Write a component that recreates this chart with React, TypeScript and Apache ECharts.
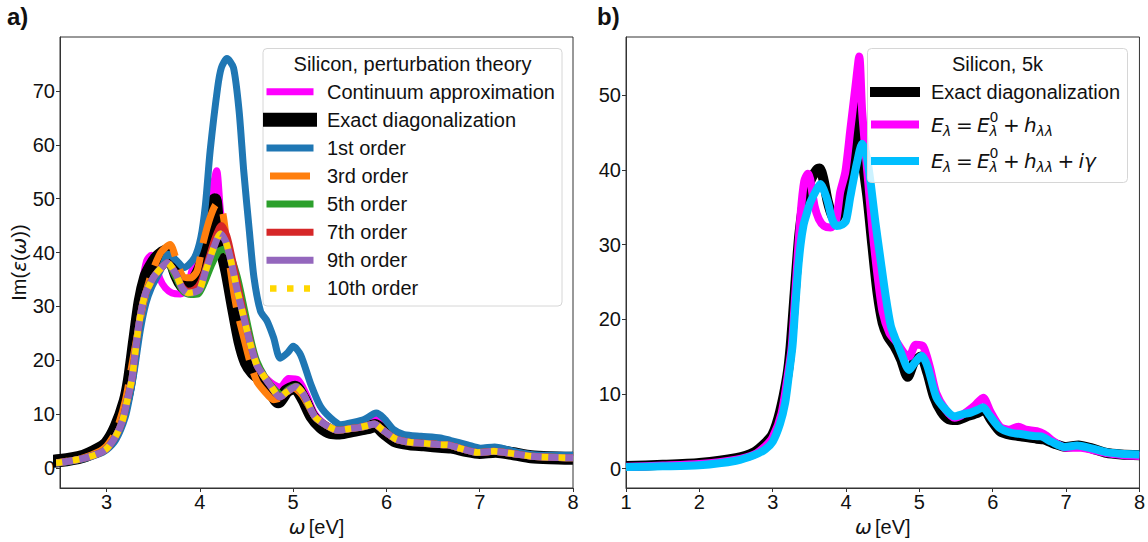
import React, { useEffect, useRef } from "react";
import * as echarts from "echarts";

// ---------- data (omega in eV, Im(eps)) ----------
const exactX = [1.0, 1.5, 2.0, 2.5, 2.75, 2.9, 3.0, 3.1, 3.2, 3.245, 3.3, 3.36, 3.42, 3.47, 3.53, 3.6, 3.64, 3.69, 3.75, 3.81, 3.86, 3.95, 4.04, 4.11, 4.16, 4.2, 4.29, 4.36, 4.43, 4.5, 4.57, 4.66, 4.75, 4.84, 4.93, 5.02, 5.11, 5.2, 5.3, 5.4, 5.5, 5.65, 5.8, 5.88, 5.98, 6.1, 6.25, 6.4, 6.6, 6.7, 6.85, 7.0, 7.17, 7.35, 7.55, 7.75, 8.0];
const exactY = [0.35, 0.5, 0.75, 1.4, 2.2, 3.4, 4.6, 7.6, 12.5, 16.4, 23.5, 31, 35.5, 37.3, 38.9, 40, 40.2, 38.8, 35.8, 33.9, 33.4, 35.2, 38.8, 45.5, 49.8, 43.3, 36.5, 29.8, 23.5, 19.5, 17.7, 16.4, 14.6, 12.3, 14.3, 15, 12.8, 9.6, 7.6, 6.6, 6.5, 7.0, 7.5, 7.9, 6.5, 5.0, 4.5, 4.3, 4.0, 3.9, 3.3, 2.9, 3.1, 2.7, 2.1, 1.9, 1.8];

const contX = [1.0, 1.5, 2.0, 2.5, 2.75, 2.9, 3.0, 3.12, 3.21, 3.26, 3.32, 3.38, 3.43, 3.48, 3.51, 3.57, 3.63, 3.7, 3.79, 3.86, 3.92, 3.99, 4.06, 4.13, 4.18, 4.22, 4.29, 4.36, 4.43, 4.5, 4.59, 4.7, 4.79, 4.86, 4.95, 5.05, 5.14, 5.23, 5.35, 5.48, 5.6, 5.75, 5.87, 5.97, 6.1, 6.22, 6.35, 6.45, 6.6, 6.7, 6.85, 7.0, 7.2, 7.4, 7.6, 7.8, 8.0];
const contY = [0.25, 0.4, 0.6, 1.2, 1.9, 3.0, 4.2, 7.4, 12.8, 16.4, 25.3, 34.0, 38.5, 39.5, 38.8, 35.2, 33.4, 32.5, 32.3, 33, 37, 39.7, 45.5, 51.3, 55.2, 47.8, 39.7, 32, 25.8, 20.9, 18.2, 16.8, 15.5, 15, 16.6, 16.4, 13.7, 10.1, 8.0, 6.8, 7.3, 8.4, 9.5, 7.6, 5.6, 5.2, 5.6, 5.2, 5.0, 4.6, 3.5, 2.8, 2.8, 2.4, 2.0, 1.8, 1.7];

// converged perturbation theory (9th / 10th order, and E = E0 + h + i gamma)
const convX = [1.0, 1.5, 2.0, 2.5, 2.75, 2.9, 3.0, 3.1, 3.17, 3.22, 3.27, 3.3, 3.34, 3.38, 3.42, 3.46, 3.51, 3.6, 3.65, 3.74, 3.81, 3.87, 3.95, 4.0, 4.06, 4.15, 4.22, 4.28, 4.34, 4.4, 4.47, 4.54, 4.61, 4.66, 4.75, 4.86, 4.93, 5.03, 5.11, 5.23, 5.35, 5.48, 5.6, 5.7, 5.8, 5.87, 5.95, 6.1, 6.25, 6.4, 6.57, 6.66, 6.8, 6.98, 7.15, 7.35, 7.55, 7.75, 8.0];
const convY = [0.2, 0.3, 0.45, 1.05, 1.8, 2.6, 3.6, 6.0, 8.8, 12.5, 16.4, 20.5, 26, 30, 32.6, 34, 35.6, 37.4, 38.1, 36.1, 33.4, 32.5, 32.7, 33.2, 36.5, 41, 43.5, 41.9, 37.9, 33, 28, 23.1, 19.1, 17.7, 15.5, 13.2, 14.1, 15.1, 13.7, 9.6, 8.0, 7.0, 7.3, 7.5, 7.9, 8.2, 7.2, 5.4, 4.8, 4.6, 4.35, 4.3, 3.6, 2.9, 3.1, 2.7, 2.2, 2.0, 1.9];

const firstX = [1.0, 2.0, 2.5, 2.75, 2.9, 3.0, 3.1, 3.2, 3.25, 3.3, 3.36, 3.42, 3.48, 3.55, 3.6, 3.66, 3.75, 3.83, 3.94, 4.01, 4.06, 4.11, 4.19, 4.23, 4.29, 4.36, 4.42, 4.47, 4.53, 4.58, 4.65, 4.72, 4.79, 4.86, 4.94, 5.0, 5.08, 5.19, 5.29, 5.4, 5.51, 5.65, 5.76, 5.89, 5.97, 6.08, 6.19, 6.37, 6.58, 6.69, 6.87, 7.01, 7.16, 7.3, 7.48, 7.66, 8.0];
const firstY = [0.2, 0.45, 1.0, 1.7, 2.5, 3.4, 5.3, 9.5, 13.5, 18.5, 25.5, 30.5, 33.5, 35.8, 37.5, 39.7, 38.5, 37.2, 39, 42.8, 49, 58.9, 70.6, 74.3, 76.0, 74.3, 66.3, 55.1, 44, 35.3, 29.1, 27.3, 24.2, 20.4, 21.4, 22.6, 21, 15.5, 11.5, 9.3, 8.05, 8.5, 9, 10.2, 9.3, 7.1, 6.2, 5.9, 5.6, 5.1, 4.3, 3.7, 3.9, 3.4, 2.7, 2.4, 2.4];

const thirdX = [1.0, 2.0, 2.5, 2.75, 2.9, 3.0, 3.1, 3.2, 3.3, 3.4, 3.47, 3.58, 3.68, 3.75, 3.82, 3.9, 3.97, 4.03, 4.11, 4.18, 4.24, 4.29, 4.35, 4.4, 4.47, 4.54, 4.61, 4.69, 4.79, 4.9, 5.0, 5.1, 5.23, 5.35, 5.48, 5.6, 5.7, 5.8, 5.87, 5.95, 6.1, 6.25, 6.4, 6.57, 6.66, 6.8, 6.98, 7.15, 7.35, 7.55, 7.75, 8.0];
const thirdY = [0.25, 0.5, 1.1, 1.9, 2.9, 4.1, 6.8, 12.5, 22, 31, 35.5, 40, 41.5, 38.5, 35.5, 35.3, 36.6, 41.5, 46.5, 49, 47.7, 41.5, 34, 29.1, 24.2, 19.5, 16.1, 14.3, 12.7, 13.3, 14.9, 13.5, 9.6, 8.0, 7.0, 7.3, 7.5, 7.9, 8.2, 7.2, 5.4, 4.8, 4.6, 4.35, 4.3, 3.6, 2.9, 3.1, 2.7, 2.2, 2.0, 1.9];

const fifthX = [1.0, 2.0, 2.5, 2.75, 2.9, 3.0, 3.1, 3.17, 3.22, 3.27, 3.3, 3.34, 3.38, 3.42, 3.46, 3.51, 3.6, 3.65, 3.74, 3.82, 3.9, 3.98, 4.05, 4.12, 4.2, 4.26, 4.32, 4.4, 4.47, 4.55, 4.61, 4.7, 4.8, 4.88, 4.95, 5.03, 5.11, 5.23, 5.35, 5.48, 5.6, 5.7, 5.8, 5.87, 5.95, 6.1, 6.25, 6.4, 6.57, 6.66, 6.8, 6.98, 7.15, 7.35, 7.55, 7.75, 8.0];
const fifthY = [0.2, 0.45, 1.05, 1.8, 2.6, 3.6, 6.0, 8.8, 12.5, 16.4, 20.5, 26, 30, 32.6, 34, 35.6, 37.4, 38, 35.5, 32.8, 32.2, 32.3, 34.5, 37.5, 40.2, 40.6, 39.6, 35.5, 30, 23.5, 19.8, 16.8, 14.6, 13.6, 14.6, 15.2, 13.7, 9.6, 8.0, 7.0, 7.3, 7.5, 7.9, 8.2, 7.2, 5.4, 4.8, 4.6, 4.35, 4.3, 3.6, 2.9, 3.1, 2.7, 2.2, 2.0, 1.9];

const seventhX = [1.0, 2.0, 2.5, 2.75, 2.9, 3.0, 3.1, 3.17, 3.22, 3.27, 3.3, 3.34, 3.38, 3.42, 3.46, 3.51, 3.6, 3.65, 3.74, 3.81, 3.87, 3.95, 4.01, 4.08, 4.16, 4.23, 4.29, 4.35, 4.41, 4.47, 4.54, 4.61, 4.66, 4.75, 4.86, 4.93, 5.03, 5.11, 5.23, 5.35, 5.48, 5.6, 5.7, 5.8, 5.87, 5.95, 6.1, 6.25, 6.4, 6.57, 6.66, 6.8, 6.98, 7.15, 7.35, 7.55, 7.75, 8.0];
const seventhY = [0.2, 0.45, 1.05, 1.8, 2.6, 3.6, 6.0, 8.8, 12.5, 16.4, 20.5, 26, 30, 32.6, 34, 35.6, 37.4, 38.1, 36.1, 33.6, 32.8, 33.2, 34.5, 38, 42.5, 45, 43, 38.5, 33.5, 28.5, 23.3, 19.1, 17.7, 15.5, 13.2, 14.1, 15.1, 13.7, 9.6, 8.0, 7.0, 7.3, 7.5, 7.9, 8.2, 7.2, 5.4, 4.8, 4.6, 4.35, 4.3, 3.6, 2.9, 3.1, 2.7, 2.2, 2.0, 1.9];

// ---------- ticks / labels ----------
const xTicksLeft = [3, 4, 5, 6, 7, 8];
const xTicksRight = [1, 2, 3, 4, 5, 6, 7, 8];
const yTicksLeft = [0, 10, 20, 30, 40, 50, 60, 70];
const yTicksRight = [0, 10, 20, 30, 40, 50];

const leftTitle = "Silicon, perturbation theory";
const leftLabels = ["Continuum approximation", "Exact diagonalization", "1st order", "3rd order", "5th order", "7th order", "9th order", "10th order"];
const rightTitle = "Silicon, 5k";
const rightExactLabel = "Exact diagonalization";

const SANS = "'Liberation Sans', Arial, Helvetica, sans-serif";
const MATH = "'DejaVu Sans', sans-serif";
const TXT = "#111";
const FRAME = "#333";

const C = {
  magenta: "#ff00ff",
  black: "#000000",
  blue: "#1f77b4",
  orange: "#ff7f0e",
  green: "#2ca02c",
  red: "#d62728",
  purple: "#9467bd",
  gold: "#ffd700",
  cyan: "#00bfff",
};

function pairs(xs: number[], ys: number[]) {
  return xs.map((x, i) => [x, ys[i]]);
}

function line(name: string, idx: number, xs: number[], ys: number[], color: string, width: number, type: any = "solid") {
  return {
    type: "line",
    name,
    xAxisIndex: idx,
    yAxisIndex: idx,
    data: pairs(xs, ys),
    showSymbol: false,
    symbol: "none",
    smooth: 0.25,
    clip: true,
    silent: true,
    lineStyle: { color, width, type, cap: "butt", join: "round" },
  };
}

function xAxis(idx: number, min: number, max: number, ticks: number[]) {
  return {
    gridIndex: idx,
    type: "value",
    min,
    max,
    axisLine: { show: true, onZero: false, lineStyle: { color: FRAME, width: 1 } },
    axisTick: { show: true, length: 4, customValues: ticks, lineStyle: { color: FRAME } },
    axisLabel: { show: true, customValues: ticks, fontSize: 20, color: TXT, fontFamily: SANS, margin: 4 },
    splitLine: { show: false },
    name: "{g|ω} {t|[eV]}",
    nameLocation: "middle",
    nameGap: 23,
    nameTextStyle: {
      rich: {
        g: { fontFamily: MATH, fontStyle: "italic", fontSize: 20, color: TXT },
        t: { fontFamily: SANS, fontSize: 20, color: TXT },
      },
    },
  };
}

function yAxis(idx: number, min: number, max: number, ticks: number[], withName: boolean) {
  const a: any = {
    gridIndex: idx,
    type: "value",
    min,
    max,
    axisLine: { show: true, onZero: false, lineStyle: { color: FRAME, width: 1 } },
    axisTick: { show: true, length: 4, customValues: ticks, lineStyle: { color: FRAME } },
    axisLabel: { show: true, customValues: ticks, fontSize: 20, color: TXT, fontFamily: SANS, margin: 5 },
    splitLine: { show: false },
  };
  if (withName) {
    a.name = "{t|Im(}{g|ε}{t|(}{g|ω}{t|))}";
    a.nameLocation = "middle";
    a.nameGap = 27;
    a.nameTextStyle = {
      rich: {
        g: { fontFamily: MATH, fontStyle: "italic", fontSize: 20, color: TXT },
        t: { fontFamily: SANS, fontSize: 20, color: TXT },
      },
    };
  }
  return a;
}

function txt(x: number, y: number, text: string, opts: any = {}) {
  const align = opts.align || "left";
  return {
    type: "text",
    x,
    y,
    z: 110,
    silent: true,
    style: {
      text,
      fill: opts.fill || TXT,
      fontSize: opts.fontSize || 20,
      fontFamily: opts.fontFamily || SANS,
      fontStyle: opts.fontStyle || "normal",
      fontWeight: opts.fontWeight || "normal",
      align,
      textAlign: align,
      verticalAlign: "middle",
      textVerticalAlign: "middle",
    },
  };
}

function handle(x1: number, x2: number, y: number, color: string, width: number, dash: number[] | null, projecting: boolean) {
  const ext = projecting ? width / 2 : 0;
  return {
    type: "line",
    z: 110,
    silent: true,
    shape: { x1: x1 - ext, y1: y, x2: x2 + ext, y2: y },
    style: { stroke: color, lineWidth: width, lineDash: dash || undefined, lineCap: "butt" },
  };
}

function buildGraphics() {
  const g: any[] = [];
  // panel letters
  g.push(txt(7, 16, "a)", { fontSize: 24, fontWeight: "bold" }));
  g.push(txt(597, 16, "b)", { fontSize: 24, fontWeight: "bold" }));

  // ---- left legend ----
  g.push({
    type: "rect",
    z: 100,
    silent: true,
    shape: { x: 263, y: 48.5, width: 299, height: 257.5, r: 4 },
    style: { fill: "rgba(255,255,255,0.8)", stroke: "#d6d6d6", lineWidth: 1 },
  });
  g.push(txt(412.5, 64, leftTitle, { align: "center" }));
  const leftStyles = [
    { c: C.magenta, w: 7, d: null, p: true },
    { c: C.black, w: 14, d: null, p: true },
    { c: C.blue, w: 7, d: null, p: true },
    { c: C.orange, w: 7, d: [40, 14], p: false },
    { c: C.green, w: 7, d: null, p: true },
    { c: C.red, w: 7, d: null, p: true },
    { c: C.purple, w: 7, d: null, p: true },
    { c: C.gold, w: 6.5, d: [6.5, 10.5], p: false },
  ];
  leftLabels.forEach((lab, i) => {
    const y = 91.7 + i * 28.1;
    const s = leftStyles[i];
    g.push(handle(270, 310, y, s.c, s.w, s.d, s.p));
    g.push(txt(327, y, lab));
  });

  // ---- right legend ----
  g.push({
    type: "rect",
    z: 100,
    silent: true,
    shape: { x: 867.5, y: 48.5, width: 260, height: 134, r: 4 },
    style: { fill: "rgba(255,255,255,0.8)", stroke: "#d6d6d6", lineWidth: 1 },
  });
  g.push(txt(997.5, 64, rightTitle, { align: "center" }));
  const rows = [92, 124.5, 161];
  g.push(handle(875, 915, rows[0], C.black, 10, null, true));
  g.push(txt(931, rows[0], rightExactLabel));
  g.push(handle(875, 915, rows[1], C.magenta, 8, null, true));
  g.push(handle(875, 915, rows[2], C.cyan, 8, null, true));

  const it = { fontFamily: MATH, fontStyle: "italic" };
  const up = { fontFamily: MATH };
  const mathPieces: any[] = [
    { t: "E", dx: 0, dy: 0, fs: 20, ...it },
    { t: "λ", dx: 12, dy: 6, fs: 14, ...it },
    { t: "=", dx: 25, dy: 0, fs: 20, ...up },
    { t: "E", dx: 46, dy: 0, fs: 20, ...it },
    { t: "0", dx: 58.5, dy: -8, fs: 14, ...up },
    { t: "λ", dx: 58.5, dy: 6, fs: 14, ...it },
    { t: "+", dx: 72, dy: 0, fs: 20, ...up },
    { t: "h", dx: 93, dy: 0, fs: 20, ...it },
    { t: "λλ", dx: 105.5, dy: 6, fs: 14, ...it },
  ];
  const extra: any[] = [
    { t: "+", dx: 126.5, dy: 0, fs: 20, ...up },
    { t: "iγ", dx: 147.5, dy: 0, fs: 20, ...it },
  ];
  const x0 = 931;
  [rows[1], rows[2]].forEach((ry, r) => {
    const list = r === 0 ? mathPieces : mathPieces.concat(extra);
    list.forEach((p) => {
      g.push(txt(x0 + p.dx, ry + p.dy, p.t, { fontSize: p.fs, fontFamily: p.fontFamily, fontStyle: p.fontStyle || "normal" }));
    });
  });
  return g;
}

const option: any = {
  animation: false,
  backgroundColor: "#ffffff",
  grid: [
    { left: 60, top: 37, width: 513, height: 451, show: true, borderColor: FRAME, borderWidth: 1, backgroundColor: "transparent" },
    { left: 626, top: 37, width: 514, height: 451, show: true, borderColor: FRAME, borderWidth: 1, backgroundColor: "transparent" },
  ],
  xAxis: [xAxis(0, 2.5, 8, xTicksLeft), xAxis(1, 1, 8, xTicksRight)],
  yAxis: [yAxis(0, -3.7, 80, yTicksLeft, true), yAxis(1, -2.6, 57.8, yTicksRight, false)],
  series: [
    // panel a
    line("Continuum approximation", 0, contX, contY, C.magenta, 7),
    line("Exact diagonalization", 0, exactX, exactY, C.black, 13),
    line("1st order", 0, firstX, firstY, C.blue, 7),
    line("3rd order", 0, thirdX, thirdY, C.orange, 7, [40, 14]),
    line("5th order", 0, fifthX, fifthY, C.green, 7),
    line("7th order", 0, seventhX, seventhY, C.red, 7),
    line("9th order", 0, convX, convY, C.purple, 7),
    line("10th order", 0, convX, convY, C.gold, 6.5, [6.5, 10.5]),
    // panel b
    line("Exact diagonalization b", 1, exactX, exactY, C.black, 10),
    line("E0 + h", 1, contX, contY, C.magenta, 8),
    line("E0 + h + i gamma", 1, convX, convY, C.cyan, 8),
  ],
  graphic: buildGraphics(),
};

export default function App() {
  const ref = useRef<HTMLDivElement>(null);
  useEffect(() => {
    const chart = echarts.init(ref.current as HTMLDivElement, null, { renderer: "svg" });
    chart.setOption(option);
    return () => chart.dispose();
  }, []);
  return (
    <div
      ref={ref}
      style={{ position: "absolute", left: 0, top: 0, width: 1148, height: 542, background: "#fff" }}
    />
  );
}
